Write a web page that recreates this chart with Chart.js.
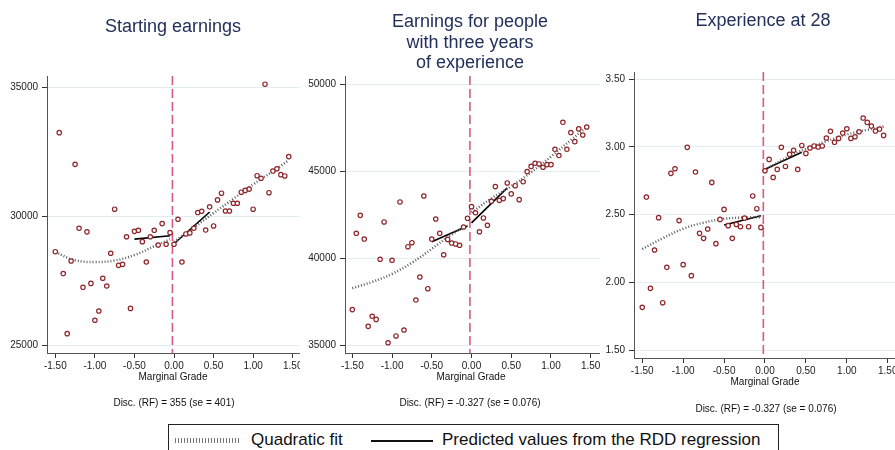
<!DOCTYPE html>
<html>
<head>
<meta charset="utf-8">
<script src="https://cdn.jsdelivr.net/npm/chart.js@4.4.0/dist/chart.umd.min.js"></script>
<style>
  body { margin: 0; background: #fff; font-family: 'Liberation Sans', Arial, sans-serif; }
  #page { position: relative; width: 895px; height: 450px; overflow: hidden; }
  canvas { position: absolute; }
  .title { position: absolute; width: 300px; text-align: center; color: #22305a; font-size: 18px; line-height: 20.5px; }
  .xlab, .note { position: absolute; width: 260px; text-align: center; font-size: 10px; line-height: 12px; color: #111; }
  #legend { position: absolute; left: 168px; top: 424px; width: 611px; height: 40px; border: 1px solid #222; box-sizing: border-box; font-size: 17px; color: #111; }
  #legend span { position: absolute; top: 5px; line-height: 20px; }
  .swatch { position: absolute; }
</style>
</head>
<body>
<div id="page">
  <canvas id="c1" width="300" height="400" style="left:0;top:0"></canvas>
  <canvas id="c2" width="300" height="400" style="left:300px;top:0"></canvas>
  <canvas id="c3" width="295" height="400" style="left:600px;top:0"></canvas>

  <div class="title" style="left:23px;top:16px">Starting earnings</div>
  <div class="title" style="left:320px;top:11px">Earnings for people<br>with three years<br>of experience</div>
  <div class="title" style="left:613px;top:10px">Experience at 28</div>

  <div class="xlab" style="left:43px;top:371px">Marginal Grade</div>
  <div class="xlab" style="left:341px;top:371px">Marginal Grade</div>
  <div class="xlab" style="left:635px;top:376px">Marginal Grade</div>

  <div class="note" style="left:44px;top:397px">Disc. (RF) = 355 (se = 401)</div>
  <div class="note" style="left:340px;top:397px">Disc. (RF) = -0.327 (se = 0.076)</div>
  <div class="note" style="left:636px;top:403px">Disc. (RF) = -0.327 (se = 0.076)</div>

  <div id="legend">
    <div class="swatch" style="left:6px;top:13px;width:66px;height:5px;background:repeating-linear-gradient(90deg,#777 0 1px,transparent 1px 3px)"></div>
    <span style="left:82px">Quadratic fit</span>
    <div class="swatch" style="left:202px;top:15px;width:62px;height:2px;background:#111"></div>
    <span style="left:273px">Predicted values from the RDD regression</span>
  </div>
</div>

<script>
// bins of the running variable (marginal grade)
const grade = [-1.50, -1.45, -1.40, -1.35, -1.30, -1.25, -1.20, -1.15, -1.10, -1.05,
               -1.00, -0.95, -0.90, -0.85, -0.80, -0.75, -0.70, -0.65, -0.60, -0.55,
               -0.50, -0.45, -0.40, -0.35, -0.30, -0.25, -0.20, -0.15, -0.10, -0.05,
                0.00,  0.05,  0.10,  0.15,  0.20,  0.25,  0.30,  0.35,  0.40,  0.45,
                0.50,  0.55,  0.60,  0.65,  0.70,  0.75,  0.80,  0.85,  0.90,  0.95,
                1.00,  1.05,  1.10,  1.15,  1.20,  1.25,  1.30,  1.35,  1.40,  1.45];

const startEarn = [28620, 33240, 27770, 25440, 28260, 32010, 29530, 27240, 29390, 27390,
                   25960, 26320, 27590, 27290, 28560, 30270, 28090, 28130, 29200, 26420,
                   29410, 29450, 29010, 28220, 29200, 29450, 28880, 29710, 28910, 29360,
                   28910, 29880, 28220, 29310, 29350, 29530, 30140, 30190, 29460, 30360,
                   29620, 30630, 30890, 30200, 30200, 30500, 30500, 30930, 31000, 31050,
                   30270, 31570, 31470, 35120, 30910, 31750, 31840, 31610, 31560, 32310];

const earn3yr = [37070, 41450, 42480, 41120, 36110, 36690, 36510, 39960, 42100, 35170,
                 39900, 35560, 43250, 35900, 40680, 40910, 37620, 38940, 43590, 38270,
                 41120, 42270, 41450, 40220, 41100, 40890, 40840, 40760, 41810, 42310,
                 42980, 42630, 41540, 42330, 41910, 43290, 44130, 43340, 43440, 44340,
                 43710, 44180, 43380, 44410, 44990, 45290, 45470, 45430, 45240, 45390,
                 45390, 46270, 45910, 47820, 46270, 47230, 46710, 47440, 47090, 47550];

const exper28 = [1.815, 2.629, 1.955, 2.238, 2.477, 1.849, 2.110, 2.804, 2.838, 2.455,
                 2.130, 2.996, 2.049, 2.814, 2.361, 2.324, 2.393, 2.737, 2.285, 2.464,
                 2.538, 2.418, 2.324, 2.427, 2.410, 2.474, 2.410, 2.637, 2.543, 2.405,
                 2.823, 2.907, 2.774, 2.833, 2.996, 2.855, 2.944, 2.974, 2.833, 3.010,
                 2.951, 2.991, 3.006, 2.998, 3.006, 3.065, 3.114, 3.033, 3.062, 3.101,
                 3.133, 3.062, 3.074, 3.111, 3.212, 3.180, 3.153, 3.116, 3.131, 3.084];

const fitGridL = [-1.50, -1.25, -1.00, -0.75, -0.50, -0.25, -0.05];
const fitGridR = [0.00, 0.25, 0.50, 0.75, 1.00, 1.25, 1.45];
const startFitL = [28600, 28290, 28220, 28280, 28490, 28830, 29100];
const startFitR = [29000, 29560, 30120, 30670, 31230, 31740, 32170];
const earnFitL = [38300, 38660, 39120, 39760, 40560, 41380, 41900];
const earnFitR = [42650, 43450, 44150, 44950, 45850, 46800, 47550];
const expFitL = [2.245, 2.325, 2.395, 2.440, 2.468, 2.478, 2.480];
const expFitR = [2.830, 2.915, 2.985, 3.040, 3.090, 3.125, 3.150];

// predicted values from the RDD regression (bandwidth 0.5)
const rddGridL = [-0.50, -0.05];
const rddGridR = [0.00, 0.45];
const startRddL = [29110, 29240];
const startRddR = [28930, 30160];
const earnRddL = [40960, 41870];
const earnRddR = [42050, 44060];
const expRddL = [2.423, 2.491];
const expRddR = [2.834, 2.959];

const cutoff = -0.02;
const xTicks = [-1.5, -1.0, -0.5, 0, 0.5, 1.0, 1.5];
const startTicks = [25000, 30000, 35000];
const earnTicks = [35000, 40000, 45000, 50000];
const expTicks = [1.5, 2.0, 2.5, 3.0, 3.5];

Chart.defaults.font.family = "'Liberation Sans', Arial, sans-serif";
Chart.defaults.color = '#222';

const pts = (xs, ys) => xs.map((x, i) => ({ x: x, y: ys[i] }));

// dashed vertical line at the admission cutoff
const cutoffLine = {
    id: 'cutoffLine',
    beforeDatasetsDraw(chart) {
        const { ctx, chartArea, scales } = chart;
        const x = scales.x.getPixelForValue(cutoff);
        ctx.save();
        ctx.strokeStyle = '#d95a82';
        ctx.lineWidth = 1.6;
        ctx.setLineDash([9, 4]);
        ctx.beginPath();
        ctx.moveTo(x, chartArea.top);
        ctx.lineTo(x, chartArea.bottom);
        ctx.stroke();
        ctx.restore();
    }
};

function makePanel(id, cfg) {
    const fitStyle = { showLine: true, pointRadius: 0, borderColor: '#5e5e5e', borderWidth: 2.5, borderDash: [1, 2], tension: 0.4, fill: false };
    const rddStyle = { showLine: true, pointRadius: 0, borderColor: '#000', borderWidth: 1.6, fill: false };

    new Chart(document.getElementById(id), {
        type: 'scatter',
        data: {
            datasets: [
                { data: pts(grade, cfg.values), pointRadius: 2.2, borderWidth: 1.2, borderColor: '#8f2428', backgroundColor: '#fff' },
                { data: pts(fitGridL, cfg.fitL), ...fitStyle },
                { data: pts(fitGridR, cfg.fitR), ...fitStyle },
                { data: pts(rddGridL, cfg.rddL), ...rddStyle },
                { data: pts(rddGridR, cfg.rddR), ...rddStyle }
            ]
        },
        options: {
            responsive: false,
            animation: false,
            events: [],
            layout: { autoPadding: false, padding: { top: cfg.top, left: 0, right: 0, bottom: 0 } },
            plugins: { legend: { display: false }, tooltip: { enabled: false } },
            scales: {
                x: {
                    type: 'linear',
                    min: cfg.xMin, max: cfg.xMax,
                    afterBuildTicks: s => { s.ticks = xTicks.map(v => ({ value: v })); },
                    afterFit: s => { s.height = cfg.xH; s.paddingLeft = 0; s.paddingRight = 0; },
                    ticks: { font: { size: 10 }, padding: 2, maxRotation: 0, callback: v => v.toFixed(2) },
                    grid: { drawOnChartArea: false, tickLength: 5, tickColor: '#333' },
                    border: { color: '#555', width: 1 }
                },
                y: {
                    min: cfg.yMin, max: cfg.yMax,
                    afterBuildTicks: s => { s.ticks = cfg.yTicks.map(v => ({ value: v })); },
                    afterFit: s => { s.width = cfg.yW; s.paddingTop = 0; s.paddingBottom = 0; },
                    ticks: { font: { size: 10 }, padding: 4, callback: cfg.fmt },
                    grid: { color: '#e3edf0', tickLength: 5, tickColor: '#333' },
                    border: { color: '#555', width: 1 }
                }
            }
        },
        plugins: [cutoffLine]
    });
}

makePanel('c1', {
    values: startEarn, fitL: startFitL, fitR: startFitR, rddL: startRddL, rddR: startRddR,
    top: 76, xH: 47, yW: 47, xMin: -1.605, xMax: 1.592, yMin: 24690, yMax: 35438,
    yTicks: startTicks, fmt: v => String(v)
});
makePanel('c2', {
    values: earn3yr, fitL: earnFitL, fitR: earnFitR, rddL: earnRddL, rddR: earnRddR,
    top: 76, xH: 47, yW: 45, xMin: -1.592, xMax: 1.617, yMin: 34581, yMax: 50476,
    yTicks: earnTicks, fmt: v => String(v)
});
makePanel('c3', {
    values: exper28, fitL: expFitL, fitR: expFitR, rddL: expRddL, rddR: expRddR,
    top: 72, xH: 42, yW: 34, xMin: -1.601, xMax: 1.589, yMin: 1.441, yMax: 3.552,
    yTicks: expTicks, fmt: v => v.toFixed(2)
});
</script>
</body>
</html>
